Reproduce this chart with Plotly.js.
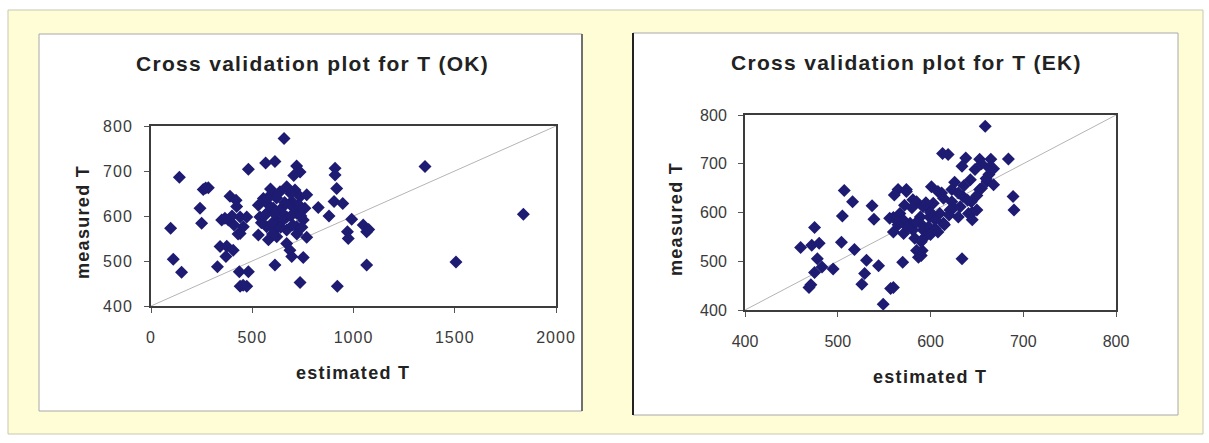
<!DOCTYPE html>
<html>
<head>
<meta charset="utf-8">
<script src="https://cdn.plot.ly/plotly-3.0.1.min.js"></script>
<style>
  html, body { margin: 0; padding: 0; background: #ffffff; }
  #chart { width: 1209px; height: 443px; }
  .annotation-text { letter-spacing: 1.3px; }
  .xtick text, .ytick text { letter-spacing: 1px; }
</style>
</head>
<body>
<div id="chart"></div>
<script>
// ---- Data ----
const okTitle = "Cross validation plot for T (OK)";
const ekTitle = "Cross validation plot for T (EK)";
const xTitle = "estimated T";
const yTitle = "measured T";

const okTicksX = [0, 500, 1000, 1500, 2000];
const ekTicksX = [400, 500, 600, 700, 800];
const ticksY = [400, 500, 600, 700, 800];

const okLineX = [0, 2000];
const okLineY = [400, 800];
const ekLineX = [400, 800];
const ekLineY = [400, 800];

const okEstimated = [657,140,481,566,612,719,736,909,909,917,904,947,826,879,991,1048,1065,970,974,1065,
  920,736,752,612,769,97,110,151,242,250,258,283,390,328,436,481,440,473,455,341,
  374,406,370,349,382,423,440,456,440,473,530,580,530,555,596,637,670,711,736,695,
  653,604,571,538,621,670,719,752,719,670,612,571,621,670,686,695,769,760,1353,1839,
  1506,590,620,580,640,700,730,690,650,600,560,690,740,700,545,410,430,400,365,720,
  705,640,660,610,575,745,600,420,270,1075];
const okMeasured = [772,686,704,718,721,711,698,706,691,661,632,628,619,600,593,580,565,565,550,491,
  444,452,508,491,553,573,504,475,617,584,659,663,644,487,476,476,444,444,446,532,
  533,524,510,591,591,621,598,576,561,598,558,547,624,639,647,654,665,658,643,632,
  621,617,606,598,591,598,606,591,576,569,569,576,554,539,524,510,647,617,710,604,
  498,660,640,625,610,620,625,600,590,585,600,650,600,580,585,580,560,600,595,560,
  690,575,630,605,640,575,560,635,662,570];

const ekEstimated = [507,516,505,537,539,475,460,472,480,478,483,475,495,469,471,504,518,531,529,526,
  544,557,560,549,570,556,560,565,574,561,572,585,567,578,589,592,571,583,591,587,
  598,596,659,613,619,638,634,653,665,663,648,684,689,690,634,661,668,653,643,626,
  623,601,608,574,581,592,603,614,635,644,650,641,630,621,610,599,614,605,589,581,
  571,594,585,590,623,632,663,612,580,560,575,605,625,640,655,660,645,585,600,615,
  595,620,668,655,630,608,590,565,650,636,645,600];
const ekMeasured = [645,622,593,614,586,569,528,533,537,505,488,477,484,446,452,539,524,502,475,453,
  491,444,446,412,498,588,560,647,643,636,615,622,598,578,591,564,557,547,522,508,
  571,612,777,721,719,712,695,709,709,692,688,710,633,605,505,664,657,647,667,662,
  647,653,643,647,626,612,619,629,633,622,605,598,591,605,598,591,578,567,578,564,
  584,550,522,512,622,612,678,640,610,590,570,585,610,625,650,670,600,580,555,575,
  620,595,690,700,640,560,540,575,635,655,585,600];

// ---- Layout helpers (pixel -> paper fraction) ----
const W = 1209, H = 443;
const px = v => v / W;
const py = v => 1 - v / H;

const markerStyle = { symbol: 'diamond', size: 10, color: '#1e1b72', line: { width: 0 } };
const lineStyle = { color: '#b4b4b4', width: 1 };
const fontFam = '"Liberation Sans", Arial, sans-serif';

const traces = [
  { x: okLineX, y: okLineY, xaxis: 'x', yaxis: 'y', mode: 'lines', line: lineStyle, hoverinfo: 'skip' },
  { x: okEstimated, y: okMeasured, xaxis: 'x', yaxis: 'y', mode: 'markers', marker: markerStyle },
  { x: ekLineX, y: ekLineY, xaxis: 'x2', yaxis: 'y2', mode: 'lines', line: lineStyle, hoverinfo: 'skip' },
  { x: ekEstimated, y: ekMeasured, xaxis: 'x2', yaxis: 'y2', mode: 'markers', marker: markerStyle }
];

const axisBase = {
  showgrid: false, zeroline: false, showline: true, mirror: true,
  linecolor: '#3c3c3c', linewidth: 2,
  ticks: 'outside', ticklen: 5, tickwidth: 1, tickcolor: '#555',
  tickfont: { family: fontFam, size: 16, color: '#3a3a3a' },
  fixedrange: true
};

const layout = {
  width: W, height: H,
  margin: { l: 0, r: 0, t: 0, b: 0 },
  paper_bgcolor: '#ffffff',
  plot_bgcolor: '#ffffff',
  showlegend: false,
  xaxis: Object.assign({}, axisBase, { domain: [px(151), px(556)], range: [0, 2000], tickvals: okTicksX, anchor: 'y', ticklabelstandoff: 11 }),
  yaxis: Object.assign({}, axisBase, { domain: [py(306), py(126)], range: [400, 800], tickvals: ticksY, anchor: 'x', ticklabelstandoff: 8 }),
  xaxis2: Object.assign({}, axisBase, { domain: [px(745), px(1116)], range: [400, 800], tickvals: ekTicksX, anchor: 'y2', ticklabelstandoff: 11 }),
  yaxis2: Object.assign({}, axisBase, { domain: [py(310), py(115)], range: [400, 800], tickvals: ticksY, anchor: 'x2', ticklabelstandoff: 8 }),
  shapes: [
    { type: 'rect', xref: 'paper', yref: 'paper', layer: 'below',
      x0: px(8), x1: px(1203), y0: py(434), y1: py(10),
      fillcolor: '#fffdd6', line: { color: '#c9c7b2', width: 1 } },
    { type: 'rect', xref: 'paper', yref: 'paper', layer: 'below',
      x0: px(39), x1: px(582), y0: py(411), y1: py(34),
      fillcolor: '#ffffff', line: { color: '#a8a8a8', width: 1 } },
    { type: 'line', xref: 'paper', yref: 'paper', layer: 'below',
      x0: px(582), x1: px(582), y0: py(411), y1: py(34), line: { color: '#505050', width: 1.5 } },
    { type: 'rect', xref: 'paper', yref: 'paper', layer: 'below',
      x0: px(633), x1: px(1178), y0: py(415), y1: py(33),
      fillcolor: '#ffffff', line: { color: '#a8a8a8', width: 1 } },
    { type: 'line', xref: 'paper', yref: 'paper', layer: 'below',
      x0: px(633), x1: px(633), y0: py(415), y1: py(33), line: { color: '#222222', width: 2 } }
  ],
  annotations: [
    { text: okTitle, xref: 'paper', yref: 'paper', x: px(312), y: py(63), xanchor: 'center', yanchor: 'middle', showarrow: false,
      font: { family: fontFam, size: 21, color: '#222', weight: 'bold' } },
    { text: ekTitle, xref: 'paper', yref: 'paper', x: px(906), y: py(62), xanchor: 'center', yanchor: 'middle', showarrow: false,
      font: { family: fontFam, size: 21, color: '#222', weight: 'bold' } },
    { text: xTitle, xref: 'paper', yref: 'paper', x: px(353), y: py(373), xanchor: 'center', yanchor: 'middle', showarrow: false,
      font: { family: fontFam, size: 18, color: '#222', weight: 'bold' } },
    { text: xTitle, xref: 'paper', yref: 'paper', x: px(930), y: py(377), xanchor: 'center', yanchor: 'middle', showarrow: false,
      font: { family: fontFam, size: 18, color: '#222', weight: 'bold' } },
    { text: yTitle, xref: 'paper', yref: 'paper', x: px(83), y: py(222), xanchor: 'center', yanchor: 'middle', showarrow: false, textangle: -90,
      font: { family: fontFam, size: 18, color: '#222', weight: 'bold' } },
    { text: yTitle, xref: 'paper', yref: 'paper', x: px(676), y: py(219), xanchor: 'center', yanchor: 'middle', showarrow: false, textangle: -90,
      font: { family: fontFam, size: 18, color: '#222', weight: 'bold' } }
  ]
};

Plotly.newPlot('chart', traces, layout, { displayModeBar: false, staticPlot: true });
</script>
</body>
</html>
